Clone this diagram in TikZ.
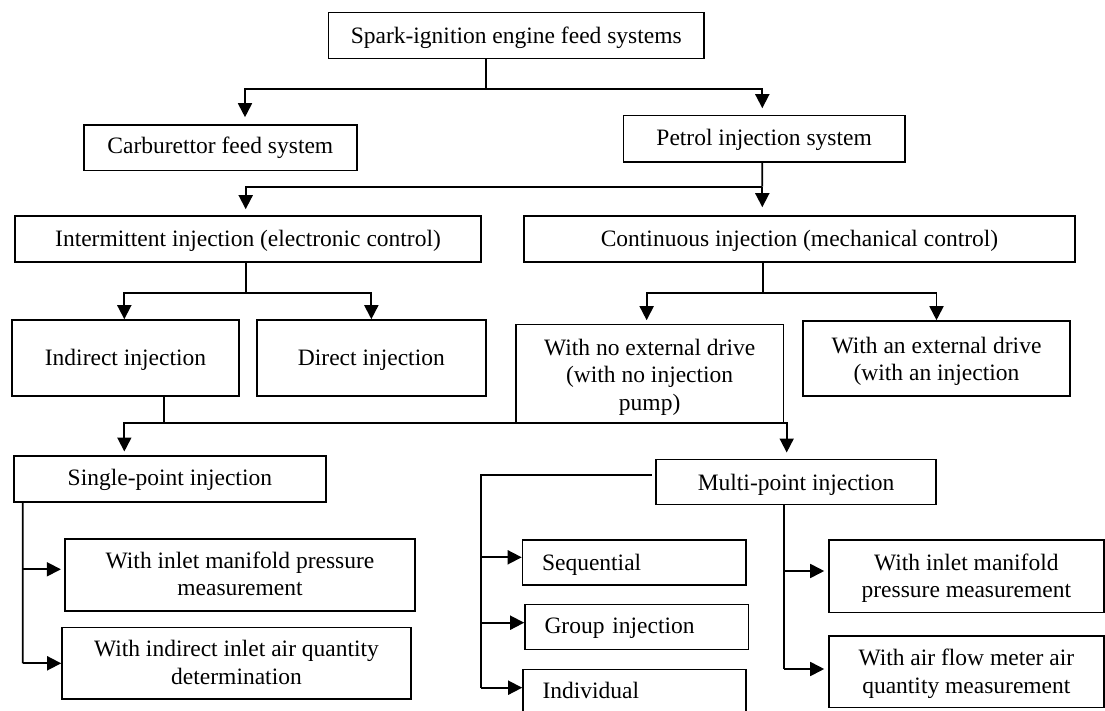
\documentclass[tikz,border=0pt]{standalone}
\usepackage{fontspec}
\setmainfont{Liberation Serif}
\usetikzlibrary{arrows.meta,calc}
\newcommand{\mytxt}[2][2pt]{\raisebox{-#1}[\height][\depth]{\begin{tabular}{@{}c@{}}#2\end{tabular}}}
\newcommand{\mytxtl}[2][2pt]{\raisebox{-#1}[\height][\depth]{\begin{tabular}{@{}l@{}}#2\end{tabular}}}
\tikzset{
  box/.style={draw=black, line width=1.6pt, inner sep=0pt, align=center, fill=white,
    font=\fontsize{23.5}{27.5}\selectfont},
  lbox/.style={box, align=left, inner xsep=19.5pt},
  conn/.style={draw=black, line width=1.8pt},
  arr/.style={conn, -{Triangle[length=14pt,width=14pt]}}
}
\begin{document}
\begin{tikzpicture}[x=1pt,y=-1pt]
\useasboundingbox (0,0) rectangle (1105,711);
\clip (0,0) rectangle (1105,711);
\fill[white] (0,0) rectangle (1105,711);

% nodes
\node[box, minimum width=375.5pt, minimum height=45.8pt] (top) at (516.25,35.6) {\mytxt[2.2pt]{Spark-ignition engine feed systems}};
\node[box, minimum width=272.7pt, minimum height=45.7pt] (carb) at (220.35,147.85) {\mytxt[0.5pt]{Carburettor feed system}};
\node[box, minimum width=281.7pt, minimum height=46.6pt] (petrol) at (764.15,139) {\mytxt[1.2pt]{Petrol injection system}};
\node[box, minimum width=466pt, minimum height=46pt] (inter) at (248,239) {\mytxt{Intermittent injection (electronic control)}};
\node[box, minimum width=551pt, minimum height=46pt] (cont) at (799.5,239) {\mytxt{Continuous injection (mechanical control)}};
\node[box, minimum width=227pt, minimum height=75.7pt] (indirect) at (125.5,357.85) {\mytxt[1.7pt]{Indirect injection}};
\node[box, minimum width=229.3pt, minimum height=75.7pt] (direct) at (371.35,357.85) {\mytxt[1.7pt]{Direct injection}};
\node[box, minimum width=267.3pt, minimum height=98.4pt] (noext) at (649.65,373.5) {\mytxt[3.5pt]{With no external drive\\(with no injection\\pump)}};
\node[box, minimum width=267pt, minimum height=74.7pt] (withext) at (936.5,358.35) {\mytxt[3pt]{With an external drive\\(with an injection}};
\node[box, minimum width=311.7pt, minimum height=45.7pt] (single) at (169.85,478.85) {\mytxt[0.7pt]{Single-point injection}};
\node[box, minimum width=280pt, minimum height=45pt] (multi) at (796,481.8) {\mytxt[2.7pt]{Multi-point injection}};
\node[box, minimum width=350pt, minimum height=72pt] (lb1) at (240,574.7) {\mytxt[1.9pt]{With inlet manifold pressure\\measurement}};
\node[box, minimum width=349pt, minimum height=71.4pt] (lb2) at (236.5,663) {\mytxt[1.9pt]{With indirect inlet air quantity\\determination}};
\node[lbox, text width=184.5pt, minimum height=45pt] (seq) at (634.25,562.5) {\mytxtl{Sequential}};
\node[lbox, text width=184.3pt, minimum height=45pt] (group) at (636.65,626.8) {\mytxtl[1pt]{Group injection}};
\node[lbox, text width=184pt, minimum height=45.7pt] (indiv) at (634.5,692.15) {\mytxtl[0.7pt]{Individual}};
\node[box, minimum width=275.3pt, minimum height=72.3pt] (rb1) at (966.35,576.15) {\mytxt[2.2pt]{With inlet manifold\\pressure measurement}};
\node[box, minimum width=275.3pt, minimum height=71.6pt] (rb2) at (966.35,671.5) {\mytxt[2.7pt]{With air flow meter air\\quantity measurement}};

% level 1
\coordinate (b1) at (486,89.3);
\draw[conn] ([xshift=-30.25pt]top.south) -- (b1);
\draw[arr] (b1) -| ([xshift=24.65pt,yshift=7pt]carb.north);
\draw[arr] (b1) -| ([xshift=-1.85pt,yshift=6.7pt]petrol.north);

% level 2
\coordinate (b2) at (762.3,186.7);
\draw[conn] ([xshift=-1.85pt]petrol.south) -- (b2);
\draw[arr] (b2) -| ([xshift=-2.3pt,yshift=6pt]inter.north);
\draw[arr] (b2) -- ([xshift=-37.2pt,yshift=8pt]cont.north);

% level 3 left
\coordinate (b3) at (245.7,292.7);
\draw[conn] ([xshift=-2.3pt]inter.south) -- (b3);
\draw[arr] (b3) -| ([xshift=-1.2pt]indirect.north);
\draw[arr] (b3) -| (direct.north);

% level 3 right
\coordinate (b4) at (763,293.3);
\draw[conn] ([xshift=-36.5pt]cont.south) -- (b4);
\draw[arr] (b4) -| ([xshift=-3pt,yshift=3.3pt]noext.north);
\draw[arr] (b4) -| (withext.north);

% level 4
\coordinate (b5) at (164,423);
\draw[conn] ([xshift=38.5pt]indirect.south) -- (b5);
\draw[arr] (b5) -| ([xshift=-45.5pt,yshift=3.7pt]single.north);
\draw[arr] (b5) -| ([xshift=-9.3pt,yshift=6pt]multi.north);

% single-point branches
\coordinate (c1) at (22.7,569.3);
\coordinate (c2) at (22.7,663.3);
\draw[conn] ([xshift=-147.15pt]single.south) -- (c2);
\draw[arr] (c1) -- ($(c1 -| lb1.west)+(-3.3,0)$);
\draw[arr] (c2) -- (c2 -| lb2.west);

% multi-point left branches
\coordinate (m0) at (480.7,475);
\coordinate (m1) at (480.7,557.3);
\coordinate (m2) at (480.7,622.7);
\coordinate (m3) at (480.7,687.7);
\draw[conn] ($(m0 -| multi.west)+(-3.7,0)$) -- (m0) -- (m3);
\draw[arr] (m1) -- (m1 -| seq.west);
\draw[arr] (m2) -- (m2 -| group.west);
\draw[arr] (m3) -- (m3 -| indiv.west);

% multi-point right branches
\coordinate (n1) at (784.3,571);
\coordinate (n2) at (784.3,669);
\draw[conn] ([xshift=-11.7pt]multi.south) -- (n2);
\draw[arr] (n1) -- ($(n1 -| rb1.west)+(-3.7,0)$);
\draw[arr] (n2) -- ($(n2 -| rb2.west)+(-3.7,0)$);
\end{tikzpicture}
\end{document}
